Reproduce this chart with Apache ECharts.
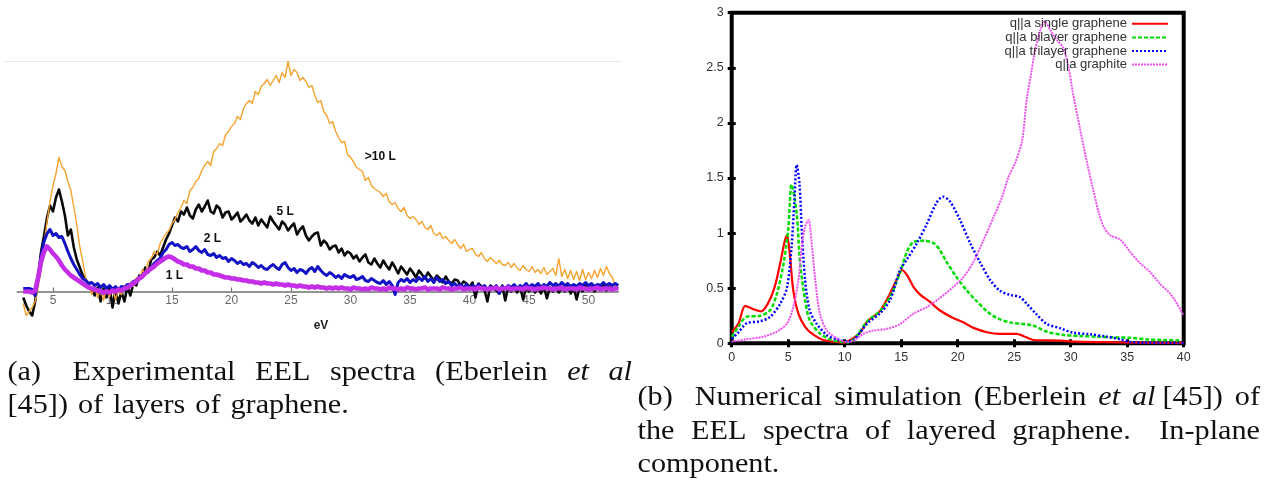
<!DOCTYPE html>
<html>
<head>
<meta charset="utf-8">
<title>EEL spectra of layered graphene</title>
<script src="https://cdn.jsdelivr.net/npm/echarts@6/dist/echarts.min.js"></script>
<style>
  html, body { margin: 0; padding: 0; background: #fff; }
  #page { position: absolute; left: 0; top: 0; width: 1268px; height: 481px; }
  #panelA { position: absolute; left: 0; top: 0; width: 630px; height: 345px; filter: blur(0.55px); }
</style>
</head>
<body>
<div id="page"></div>
<div id="panelA"></div>
<script>
// ---------- (a) measured spectra: one channel every 0.25 eV from 2.5 eV ----------
const expStart = 2.5;
const expStep = 0.25;
const expTicks = [5, 10, 15, 20, 25, 30, 35, 40, 45, 50];

// >10 layers
const expMulti = [
  -12, -24, -20, -16, -10, 4, 22, 48, 70, 90, 106, 118, 134, 125, 121, 110, 101, 84, 67, 45,
  30, 13, 7, -3, 5, -6, 2, -9, 3, -5, 4, -8, 1, -3, 6, 2, 9, 5, 14, 11,
  22, 17, 30, 33, 40, 37, 48, 53, 58, 61, 68, 72, 79, 84, 91, 88, 101, 104, 110, 113,
  121, 126, 130, 126, 140, 143, 148, 146, 157, 160, 165, 168, 175, 172, 183, 188, 191, 188, 200, 197,
  205, 208, 212, 206, 211, 216, 209, 219, 214, 230, 216, 222, 219, 211, 214, 210, 204, 206, 196, 189,
  191, 180, 176, 168, 170, 160, 154, 149, 150, 137, 134, 130, 124, 122, 120, 111, 114, 106, 103, 101,
  99, 95, 98, 90, 87, 89, 83, 80, 84, 76, 73, 75, 72, 67, 70, 64, 62, 66, 58, 56,
  59, 53, 55, 51, 48, 52, 47, 43, 47, 40, 42, 43, 37, 35, 39, 33, 30, 34, 31, 28,
  31, 27, 26, 29, 24, 28, 23, 21, 26, 22, 20, 25, 19, 22, 18, 24, 17, 20, 23, 16,
  33, 15, 22, 13, 21, 12, 20, 11, 22, 12, 19, 13, 21, 14, 23, 16, 25, 18, 14, 6,
  4
];
// 5 layers
const exp5L = [
  -6, -14, -20, -24, -10, 14, 40, 56, 74, 86, 80, 94, 102, 90, 76, 56, 62, 44, 32, 24,
  16, 12, 6, 2, -4, 4, -10, 3, -6, 5, -16, 2, -12, 0, -10, 5, -4, 8, 6, 16,
  14, 24, 19, 32, 34, 40, 36, 44, 52, 58, 66, 74, 70, 80, 77, 84, 76, 73, 82, 87,
  80, 85, 91, 80, 78, 86, 83, 74, 79, 80, 72, 75, 79, 70, 73, 77, 71, 68, 74, 66,
  72, 68, 64, 75, 70, 66, 62, 70, 67, 61, 65, 68, 57, 62, 65, 56, 51, 55, 58, 59,
  46, 51, 48, 42, 45, 46, 39, 43, 36, 40, 38, 33, 36, 30, 34, 37, 29, 27, 33, 28,
  24, 31, 26, 22, 29, 24, 18, 25, 21, 17, 23, 19, 14, 21, 17, 13, 19, 15, 11, 16,
  13, 9, 15, 10, 8, 12, 11, 6, 10, 8, 4, 9, -6, 8, 5, 2, -10, 6, 4, 1,
  -2, 6, -9, 5, 0, 6, -1, 5, -8, 4, 0, 6, -1, 4, -2, 5, -7, 4, 0, 5,
  -1, 4, 0, 6, -2, 4, -8, 5, 0, 6, 1, 5, 0, 4, 2, 6, 1, 5, 2, 4,
  3
];
// 2 layers
const exp2L = [
  3, 3, 3, 2, -4, 12, 36, 50, 58, 62, 56, 58, 54, 55, 48, 40, 33, 27, 22, 17,
  13, 11, 8, 9, 6, 8, 4, 7, 3, 6, 2, 5, 2, 5, 4, 7, 7, 10, 11, 14,
  16, 19, 22, 24, 28, 31, 33, 39, 42, 47, 49, 46, 47, 44, 43, 45, 40, 42, 45, 41,
  39, 42, 37, 36, 38, 34, 36, 33, 34, 30, 33, 31, 28, 30, 27, 28, 25, 29, 27, 24,
  26, 23, 22, 25, 27, 24, 22, 27, 29, 24, 21, 23, 19, 22, 21, 18, 22, 24, 20, 25,
  21, 18, 16, 19, 17, 14, 16, 13, 17, 15, 14, 16, 12, 13, 15, 11, 10, 13, 11, 9,
  8, 11, 7, 10, 6, -3, 9, 12, 10, 13, 9, 12, 10, 14, 11, 15, 10, 13, 9, 14,
  10, 12, 8, 10, 6, 8, 5, 7, 4, 7, 3, 6, 4, 7, 3, 6, 2, 5, 3, 6,
  -2, 5, 3, 6, 4, 7, 3, 6, 4, 8, 4, 7, 5, 8, 4, 7, 5, 9, 6, 8,
  5, 9, 6, 8, 5, 7, 5, 8, 6, 9, 6, 8, 5, 7, 6, 9, 6, 8, 6, 8,
  6
];
// 1 layer
const exp1L = [
  0, 0, 0, -1, 1, 14, 30, 40, 45, 42, 38, 35, 31, 26, 22, 19, 16, 14, 12, 10,
  8, 6, 4, 3, 2, 1, 0, -1, 0, -1, 1, 0, 2, 1, 3, 4, 6, 8, 10, 13,
  15, 18, 21, 23, 25, 28, 30, 32, 34, 35, 34, 32, 30, 29, 27, 27, 25, 25, 23, 23,
  21, 21, 19, 19, 17, 17, 16, 15, 14, 14, 13, 13, 12, 12, 11, 11, 10, 10, 9, 9,
  8, 9, 8, 8, 7, 8, 7, 7, 6, 7, 6, 6, 5, 6, 5, 5, 4, 5, 4, 5,
  4, 4, 3, 4, 3, 4, 3, 4, 3, 3, 2, 4, 3, 3, 2, 3, 2, 4, 3, 3,
  2, 3, 2, 4, 3, 3, 2, 3, 2, 4, 3, 3, 2, 3, 3, 4, 2, 3, 3, 3,
  2, 4, 3, 3, 2, 3, 3, 4, 2, 3, 3, 3, 2, 4, 3, 3, 2, 3, 3, 4,
  2, 3, 3, 4, 2, 3, 3, 3, 2, 4, 3, 3, 2, 3, 3, 4, 3, 3, 2, 3,
  3, 4, 2, 3, 3, 3, 2, 4, 3, 3, 2, 3, 3, 4, 2, 3, 3, 3, 2, 3,
  3
];
const expNames = ['>10 L', '5 L', '2 L', '1 L'];

// ---------- (b) simulated in-plane loss function: [energy (eV), intensity] ----------
const simSingle = [
  [0, 0.10], [0.6, 0.18], [1.2, 0.34], [1.9, 0.31], [2.6, 0.29], [3.2, 0.36], [3.8, 0.51],
  [4.3, 0.73], [4.7, 0.93], [4.9, 0.98], [5.15, 0.80], [5.45, 0.48], [5.9, 0.27], [6.5, 0.15],
  [7.2, 0.08], [8.1, 0.03], [9.0, 0.015], [9.9, 0.006], [10.5, 0.03], [11.4, 0.10], [12.0, 0.20],
  [13.1, 0.29], [14.0, 0.45], [14.7, 0.60], [15.05, 0.665], [15.5, 0.62], [16.1, 0.51],
  [16.7, 0.44], [17.5, 0.38], [18.4, 0.30], [19.6, 0.23], [20.5, 0.19], [21.4, 0.14],
  [22.6, 0.10], [23.7, 0.085], [25.2, 0.085], [25.8, 0.067], [26.7, 0.03], [27.9, 0.027],
  [29.1, 0.024], [30.2, 0.015], [33.2, 0.01], [36, 0.005], [40, 0.003]
];
const simBilayer = [
  [0, 0.06], [0.6, 0.15], [1.3, 0.24], [2.5, 0.25], [3.4, 0.30], [4.0, 0.45], [4.6, 0.73],
  [5.0, 1.03], [5.3, 1.44], [5.75, 1.18], [6.05, 0.73], [6.5, 0.39], [6.9, 0.21], [7.8, 0.09],
  [8.7, 0.036], [9.6, 0.015], [10.3, 0.01], [11.0, 0.06], [12.0, 0.20], [13.1, 0.29],
  [14.0, 0.42], [14.9, 0.64], [15.5, 0.83], [16.1, 0.92], [17.0, 0.93], [17.85, 0.91],
  [18.4, 0.85], [19.0, 0.74], [19.9, 0.60], [20.8, 0.48], [21.7, 0.38], [22.6, 0.29],
  [23.45, 0.23], [24.6, 0.19], [25.8, 0.175], [26.7, 0.16], [27.9, 0.105], [29.4, 0.075],
  [30.8, 0.067], [32.3, 0.06], [33.8, 0.054], [35.25, 0.05], [36.7, 0.036], [38.2, 0.03],
  [39.8, 0.024]
];
const simTrilayer = [
  [0, 0.04], [0.6, 0.10], [1.3, 0.18], [2.5, 0.20], [3.4, 0.24], [4.3, 0.36], [4.9, 0.51],
  [5.3, 0.88], [5.55, 1.30], [5.75, 1.62], [6.0, 1.45], [6.2, 1.03], [6.5, 0.57], [6.9, 0.30],
  [7.5, 0.18], [8.4, 0.076], [9.3, 0.036], [10.2, 0.015], [10.8, 0.03], [12.0, 0.18],
  [13.1, 0.27], [14.0, 0.39], [14.9, 0.665], [15.5, 0.76], [16.4, 0.91], [17.3, 1.09],
  [18.1, 1.27], [18.7, 1.33], [19.3, 1.29], [20.2, 1.12], [21.1, 0.91], [22.0, 0.73],
  [22.9, 0.57], [23.7, 0.48], [24.6, 0.44], [25.5, 0.42], [26.1, 0.36], [27.0, 0.26],
  [27.9, 0.175], [29.1, 0.136], [30.2, 0.097], [31.7, 0.082], [33.2, 0.06], [34.4, 0.036],
  [35.25, 0.012], [36.5, 0.005], [40, 0.002]
];
const simGraphite = [
  [0, 0.015], [1.3, 0.036], [2.8, 0.06], [4.0, 0.106], [4.9, 0.18], [5.45, 0.33], [5.9, 0.57],
  [6.2, 0.88], [6.5, 1.06], [6.8, 1.12], [7.1, 0.88], [7.4, 0.57], [7.8, 0.27], [8.4, 0.12],
  [9.3, 0.045], [10.2, 0.012], [10.8, 0.024], [11.65, 0.085], [12.5, 0.115], [13.7, 0.13],
  [14.9, 0.175], [16.1, 0.27], [17.3, 0.33], [18.4, 0.41], [19.6, 0.51], [20.5, 0.60],
  [21.4, 0.74], [22.3, 0.94], [23.2, 1.15], [23.9, 1.32], [24.5, 1.51], [25.1, 1.64],
  [25.7, 1.84], [26.1, 2.21], [26.5, 2.45], [26.8, 2.63], [27.3, 2.84], [27.7, 2.92],
  [28.2, 2.84], [28.8, 2.75], [29.35, 2.68], [29.8, 2.51], [30.2, 2.27], [30.8, 1.96],
  [31.4, 1.66], [32.0, 1.39], [32.5, 1.18], [32.9, 1.06], [33.5, 0.98], [34.4, 0.94],
  [35.25, 0.83], [36.1, 0.73], [37.0, 0.65], [37.9, 0.54], [38.8, 0.45], [39.4, 0.36], [40, 0.25]
];
const simNames = ['q||a single graphene', 'q||a bilayer graphene', 'q||a trilayer graphene', 'q||a graphite'];

// ---------- captions ----------
const captionA = [
  [{ t: '(a)' }, { t: 'Experimental', gap: 12 }, { t: 'EEL' }, { t: 'spectra' }, { t: '(Eberlein' }, { t: 'et', it: true }, { t: 'al', it: true }],
  [{ t: '[45])' }, { t: 'of' }, { t: 'layers' }, { t: 'of' }, { t: 'graphene.' }]
];
const captionB = [
  [{ t: '(b)' }, { t: 'Numerical', gap: 10 }, { t: 'simulation' }, { t: '(Eberlein' }, { t: 'et', it: true }, { t: 'al', it: true }, { t: '[45])', gap: -5 }, { t: 'of' }],
  [{ t: 'the' }, { t: 'EEL' }, { t: 'spectra' }, { t: 'of' }, { t: 'layered' }, { t: 'graphene.' }, { t: 'In-plane', gap: 12 }],
  [{ t: 'component.' }]
];

// ---------- panel (a) ----------
const energy = expMulti.map((_, i) => expStart + i * expStep);
const asPairs = vals => vals.map((v, i) => [energy[i], v]);

function curveLabel(text, coord) {
  return {
    symbol: 'rect', symbolSize: 1, silent: true,
    itemStyle: { color: 'rgba(0,0,0,0)' },
    label: {
      show: true, position: 'inside', formatter: text, color: '#111',
      fontFamily: 'Liberation Sans', fontWeight: 'bold', fontSize: 12
    },
    data: [{ coord: coord }]
  };
}
function expSeries(name, vals, color, width, labelAt) {
  return {
    name: name, type: 'line', data: asPairs(vals), symbol: 'none', clip: false,
    lineStyle: { color: color, width: width, join: 'round' },
    markPoint: curveLabel(name, labelAt)
  };
}

const chartA = echarts.init(document.getElementById('panelA'), null, { renderer: 'canvas' });
chartA.setOption({
  animation: false,
  // the plot floor is the zero line; dips below zero are drawn under it
  grid: { left: 17.3, top: 61.5, width: 601, height: 230, outerBoundsMode: 'none' },
  xAxis: {
    type: 'value', min: 2, max: 52.5,
    axisLine: { lineStyle: { color: '#707070', width: 1.5 } },
    axisTick: { show: true, inside: true, length: 4, customValues: expTicks, lineStyle: { color: '#707070', width: 1.2 } },
    axisLabel: { customValues: expTicks, margin: 3, color: '#6a6a6a', fontSize: 12, fontFamily: 'Liberation Sans' },
    splitLine: { show: false }
  },
  yAxis: {
    type: 'value', min: 0, max: 230,
    axisLine: { show: false }, axisTick: { show: false }, axisLabel: { show: false }, splitLine: { show: false }
  },
  series: [
    expSeries(expNames[1], exp5L, '#0a0a0a', 2.6, [24.5, 80]),
    expSeries(expNames[0], expMulti, '#f5a32e', 1.4, [32.5, 134.5]),
    expSeries(expNames[2], exp2L, '#1212c4', 3, [18.4, 52.5]),
    expSeries(expNames[3], exp1L, '#c42ee8', 4.6, [15.2, 15.5])
  ],
  graphic: [
    { type: 'line', silent: true, z: -1, shape: { x1: 5, y1: 61.5, x2: 621, y2: 61.5 }, style: { stroke: '#e6e6e6', lineWidth: 1 } },
    { type: 'text', silent: true, x: 321, y: 326,
      style: { text: 'eV', fill: '#222', fontFamily: 'Liberation Sans', fontWeight: 'bold', fontSize: 12, align: 'center', verticalAlign: 'middle' } }
  ]
});

// ---------- caption layout (justified paragraph lines) ----------
const CAP_FAMILY = '"Liberation Serif", "Times New Roman", serif';
const CAP_SIZE = 27;
const CAP_SX = 1.12;
const measureCtx = document.createElement('canvas').getContext('2d');
function wordWidth(w) {
  measureCtx.font = (w.it ? 'italic ' : '') + CAP_SIZE + 'px ' + CAP_FAMILY;
  return measureCtx.measureText(w.t).width * CAP_SX;
}
function layoutLine(words, x0, x1, yMid, justify) {
  const widths = words.map(wordWidth);
  const total = widths.reduce((a, b) => a + b, 0);
  const extra = words.slice(1).reduce((a, w) => a + (w.gap || 0), 0);
  let gap = CAP_SIZE * 0.33 * CAP_SX;
  if (justify && words.length > 1) gap = (x1 - x0 - total - extra) / (words.length - 1);
  let x = x0;
  return words.map((w, i) => {
    if (i > 0) x += gap + (w.gap || 0);
    const el = {
      type: 'text', silent: true, x: x, y: yMid, scaleX: CAP_SX,
      style: {
        text: w.t, fill: '#111', fontFamily: CAP_FAMILY, fontSize: CAP_SIZE,
        fontStyle: w.it ? 'italic' : 'normal', align: 'left', verticalAlign: 'middle'
      }
    };
    x += widths[i];
    return el;
  });
}
const captionGraphics = [].concat(
  layoutLine(captionA[0], 7.5, 632, 372.6, true),
  layoutLine(captionA[1], 7.5, 632, 406.4, false),
  layoutLine(captionB[0], 637.5, 1260, 398.4, true),
  layoutLine(captionB[1], 637.5, 1260, 431.6, true),
  layoutLine(captionB[2], 637.5, 1260, 464.8, false)
);

// ---------- panel (b) ----------
const frameAxis = {
  axisLine: { show: false },
  axisTick: { show: true, inside: true, length: 4, lineStyle: { color: '#000', width: 3 } },
  splitLine: { show: false }
};
const simLabel = { color: '#333', fontSize: 12.5, fontFamily: 'Liberation Sans' };

const chartB = echarts.init(document.getElementById('page'), null, { renderer: 'canvas' });
chartB.setOption({
  animation: false,
  grid: {
    left: 731.7, top: 12.7, width: 452, height: 330.6, outerBoundsMode: 'none',
    show: true, borderColor: '#000', borderWidth: 4, backgroundColor: 'transparent'
  },
  legend: {
    data: simNames, orient: 'vertical', right: 99, top: 17, align: 'right',
    itemWidth: 36, itemHeight: 10, itemGap: 0, padding: 0, selectedMode: false,
    itemStyle: { color: 'rgba(0,0,0,0)', borderWidth: 0, opacity: 0 },
    textStyle: { fontFamily: 'Liberation Sans', fontSize: 13, color: '#333', lineHeight: 13.6 }
  },
  xAxis: [
    Object.assign({ type: 'value', min: 0, max: 40, interval: 5, position: 'bottom',
      axisLabel: Object.assign({ margin: 8 }, simLabel) }, frameAxis),
    Object.assign({ type: 'value', min: 0, max: 40, interval: 5, position: 'top',
      axisLabel: { show: false } }, frameAxis)
  ],
  yAxis: [
    Object.assign({ type: 'value', min: 0, max: 3, interval: 0.5, position: 'left',
      axisLabel: Object.assign({ margin: 8 }, simLabel) }, frameAxis),
    Object.assign({ type: 'value', min: 0, max: 3, interval: 0.5, position: 'right',
      axisLabel: { show: false } }, frameAxis)
  ],
  series: [
    { name: simNames[0], type: 'line', data: simSingle, symbol: 'none', smooth: 0.3,
      lineStyle: { color: '#ff0000', width: 2.2 } },
    { name: simNames[1], type: 'line', data: simBilayer, symbol: 'none', smooth: 0.3,
      lineStyle: { color: '#00dd00', width: 2.5, type: [4, 2] } },
    { name: simNames[2], type: 'line', data: simTrilayer, symbol: 'none', smooth: 0.3,
      lineStyle: { color: '#0000ff', width: 2.5, type: [2, 2] } },
    { name: simNames[3], type: 'line', data: simGraphite, symbol: 'none', smooth: 0.3,
      lineStyle: { color: '#f050f0', width: 2, type: [2, 1] } }
  ],
  graphic: captionGraphics
});
</script>
</body>
</html>
